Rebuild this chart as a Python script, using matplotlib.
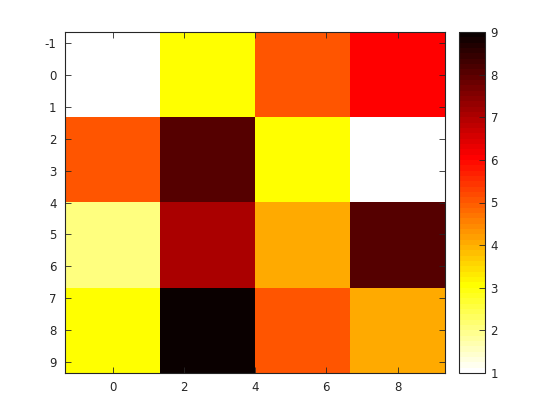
import numpy as np
import matplotlib
matplotlib.use("Agg")
import matplotlib.pyplot as plt
from matplotlib.colors import ListedColormap

# cell values, rows top to bottom
values = [
    [1, 3, 5, 6],
    [5, 8, 3, 1],
    [2, 7, 4, 8],
    [3, 9, 5, 4],
]
x_range = [0, 8]
y_range = [0, 8]
x_ticks = [0, 2, 4, 6, 8]
y_ticks = [-1, 0, 1, 2, 3, 4, 5, 6, 7, 8, 9]
cbar_ticks = [1, 2, 3, 4, 5, 6, 7, 8, 9]

# Octave-style 64 level hot map, flipped
n = 64
idx = int(3 / 8 * n)
r = np.concatenate([np.arange(1, idx + 1) / idx, np.ones(n - idx)])
g = np.concatenate([np.zeros(idx), np.arange(1, idx + 1) / idx, np.ones(n - 2 * idx)])
b = np.concatenate([np.zeros(2 * idx), np.arange(1, n - 2 * idx + 1) / (n - 2 * idx)])
cmap = ListedColormap(np.column_stack([r, g, b])[::-1])

data = np.array(values, dtype=float)
nr, nc = data.shape
dx = (x_range[1] - x_range[0]) / (nc - 1)
dy = (y_range[1] - y_range[0]) / (nr - 1)
extent = [x_range[0] - dx / 2, x_range[1] + dx / 2, y_range[1] + dy / 2, y_range[0] - dy / 2]

txt = "#262626"
plt.rcParams["font.family"] = "DejaVu Sans"
plt.rcParams["font.size"] = 8.5
plt.rcParams["axes.unicode_minus"] = False

fig = plt.figure(figsize=(5.6, 4.2), dpi=100)
ax = fig.add_axes([65 / 560, 1 - 373 / 420, 380 / 560, 341 / 420])
im = ax.imshow(data, cmap=cmap, vmin=1, vmax=9, extent=extent,
               aspect="auto", interpolation="nearest")
ax.set_xticks(x_ticks)
ax.set_yticks(y_ticks)
ax.tick_params(direction="in", length=4, width=0.6, colors=txt,
               top=True, right=True, labelsize=8.5, pad=6)
for s in ax.spines.values():
    s.set_color(txt)
    s.set_linewidth(0.8)

cax = fig.add_axes([459 / 560, 1 - 373 / 420, 26 / 560, 341 / 420])
cb = fig.colorbar(im, cax=cax, ticks=cbar_ticks)
cb.outline.set_edgecolor(txt)
cb.outline.set_linewidth(0.8)
cax.tick_params(direction="in", length=4, width=0.6, colors=txt, labelsize=8.5, pad=4)

fig.savefig("out.png", dpi=100, facecolor="white")
